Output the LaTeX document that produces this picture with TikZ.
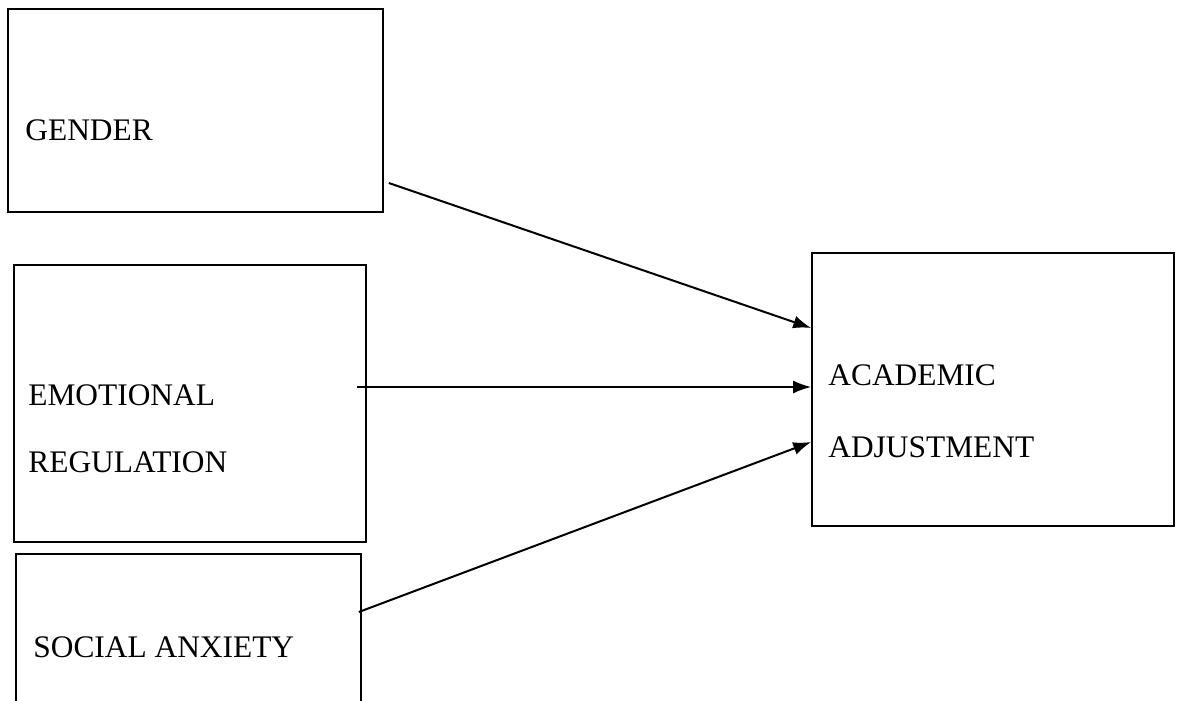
\documentclass[tikz,border=0pt]{standalone}
\usepackage{fontspec}
\setmainfont{Liberation Serif}
\usetikzlibrary{arrows.meta,positioning}

\begin{document}
\begin{tikzpicture}[x=0.5pt,y=-0.5pt,>={Latex[length=9pt,width=6.5pt]}]
	\tikzset{varbox/.style={draw, shape=rectangle, line width=0.8pt, inner sep=0pt},
		vartext/.style={anchor=west, inner sep=0pt, font=\fontsize{15.7}{19}\selectfont},
		link/.style={->, line width=1pt}
	}
	\useasboundingbox (0,0) rectangle (1179,701);
	\clip (0,0) rectangle (1179,701);
	% variable boxes
	\node [varbox, minimum width=187.5pt, minimum height=101.5pt] (gender) at (195.5,110.5) {};
	\node [varbox, minimum width=176pt, minimum height=138.5pt] (emoreg) at (190,403.5) {};
	\node [varbox, minimum width=172.5pt, minimum height=103pt] (socanx) at (188.5,657) {};
	\node [varbox, minimum width=181pt, minimum height=136.5pt] (acadadj) at (993,389.5) {};
	% labels
	\node [vartext] (gendertxt) at (25,130) {GENDER};
	\node [vartext] (emotxt) at (28,395) {EMOTIONAL};
	\node [vartext] (regtxt) at (28,462) {REGULATION};
	\node [vartext] (socanxtxt) at (33,647) {SOCIAL ANXIETY};
	\node [vartext] (acadtxt) at (828,375) {ACADEMIC};
	\node [vartext] (adjtxt) at (828,447) {ADJUSTMENT};
	% paths
	\draw [link] ([xshift=2.5pt,yshift=-36.25pt]gender.east) -- ([yshift=30.75pt]acadadj.west);
	\draw [link] ([xshift=-5pt,yshift=8.25pt]emoreg.east) -- ([yshift=1.25pt]acadadj.west);
	\draw [link] ([xshift=-1.5pt,yshift=22.5pt]socanx.east) -- ([yshift=-26.25pt]acadadj.west);
\end{tikzpicture}
\end{document}
